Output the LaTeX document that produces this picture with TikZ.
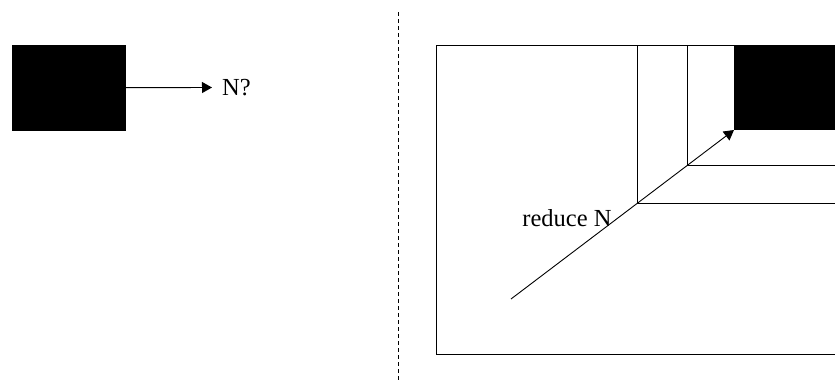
\documentclass[tikz,border=0pt]{standalone}
\usepackage{fontspec}
\setmainfont{Liberation Serif}
\usetikzlibrary{arrows.meta}
\begin{document}
\begin{tikzpicture}[x=1pt,y=-1pt,
  ln/.style={line width=0.9pt},
  arr/.style={ln,-{Triangle[length=10pt,width=11pt]}},
  lbl/.style={font=\fontsize{24.5}{28}\selectfont,inner sep=0pt}]
\useasboundingbox (0,0) rectangle (835,380);
% left panel
\node[fill=black,draw=black,minimum width=113pt,minimum height=85pt,inner sep=0pt,anchor=north west] (blk) at (12,45) {};
\node[lbl,anchor=west,inner xsep=10pt] (nq) at (212,87.5) {N?};
\draw[arr] (blk.east) -- (nq.west);
% divider
\coordinate (dtop) at (398,12);
\coordinate (dbot) at (398,380);
\draw[line width=0.6pt,dash pattern=on 4pt off 3pt] (dtop) -- (dbot);
% right panel
\draw[ln] (835,45) -- (436,45) -- (436,354) -- (835,354);
\draw[ln] (637,45) -- (637,203) -- (835,203);
\draw[ln] (687,45) -- (687,165) -- (835,165);
\fill[black] (734,45) rectangle (835,130);
\coordinate (corner) at (734,130);
\coordinate (start) at (511,299);
\node[lbl,anchor=base] (red) at (567,226) {reduce N};
\draw[arr] (start) -- (corner);
\end{tikzpicture}
\end{document}
